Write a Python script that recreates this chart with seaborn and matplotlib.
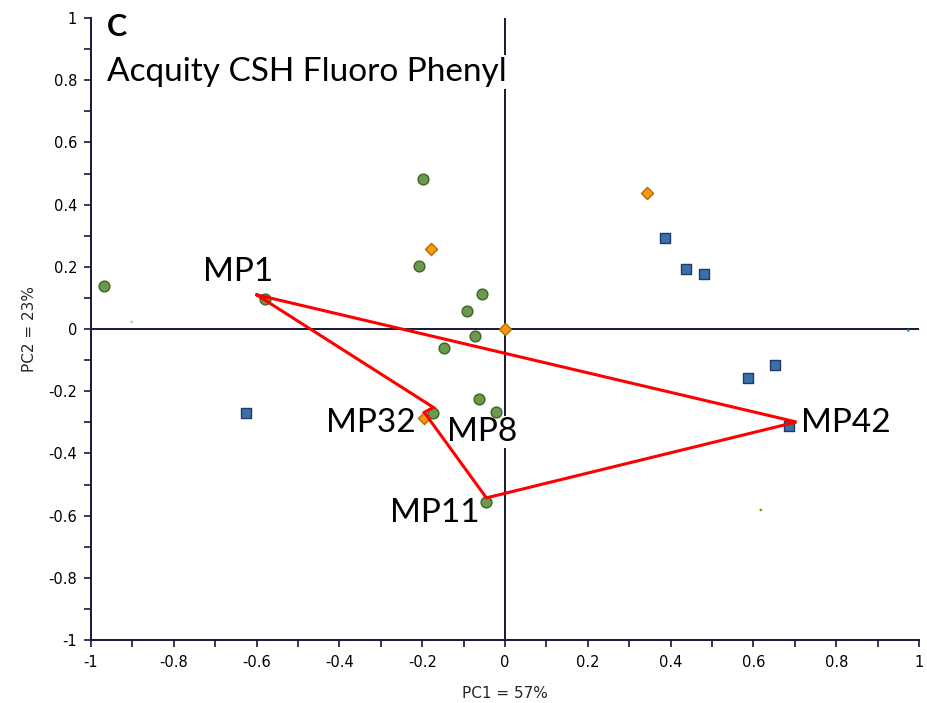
import matplotlib
matplotlib.use("Agg")
import matplotlib.pyplot as plt
from matplotlib.ticker import MultipleLocator
import seaborn as sns
import pandas as pd

# ---- data ----
green_x = [-0.969, -0.580, -0.198, -0.208, -0.056, -0.092, -0.072, -0.147, -0.063, -0.021, -0.174, -0.046]
green_y = [0.138, 0.096, 0.482, 0.203, 0.113, 0.058, -0.022, -0.062, -0.225, -0.266, -0.271, -0.556]
blue_x = [-0.626, 0.387, 0.436, 0.481, 0.651, 0.586, 0.685]
blue_y = [-0.271, 0.294, 0.194, 0.178, -0.117, -0.157, -0.312]
orange_x = [-0.178, 0.0, -0.195, 0.342]
orange_y = [0.258, 0.0, -0.287, 0.438]

poly_labels = ["MP1", "MP32", "MP8", "MP11", "MP42"]
poly_x = [-0.600, -0.173, -0.195, -0.045, 0.704]
poly_y = [0.110, -0.252, -0.268, -0.543, -0.299]
label_x = [-0.645, -0.324, -0.056, -0.169, 0.824]
label_y = [0.183, -0.302, -0.331, -0.592, -0.302]

stray_x = [0.974, 0.618, -0.902]
stray_y = [-0.005, -0.582, 0.023]
stray_c = ["#2aa3d8", "#b08a00", "#c8c8c8"]

x_ticks = [-1, -0.8, -0.6, -0.4, -0.2, 0, 0.2, 0.4, 0.6, 0.8, 1]
y_ticks = [-1, -0.8, -0.6, -0.4, -0.2, 0, 0.2, 0.4, 0.6, 0.8, 1]

sns.set_theme(style="white")
plt.rcParams["font.family"] = ["DejaVu Sans"]
plt.rcParams["axes.unicode_minus"] = False

fig = plt.figure(figsize=(9.27, 7.03), dpi=100)
ax = fig.add_axes([91 / 927, 1 - 640 / 703, (919 - 91) / 927, (640 - 18) / 703])

navy = "#15163a"

# zero lines
ax.axhline(0, color=navy, lw=1.4, zorder=1)
ax.axvline(0, color=navy, lw=1.4, zorder=1)

df = pd.DataFrame({
    "x": green_x + blue_x + orange_x,
    "y": green_y + blue_y + orange_y,
    "grp": ["g"] * len(green_x) + ["b"] * len(blue_x) + ["o"] * len(orange_x),
})
fills = {"g": "#6b9a4c", "b": "#3a6fa8", "o": "#f59a10"}
edges = {"g": "#3d6428", "b": "#1c3c66", "o": "#b86a00"}
marks = {"g": "o", "b": "s", "o": "D"}
sizes = {"g": 60, "b": 42, "o": 38}
for g in ["g", "b", "o"]:
    sub = df[df.grp == g]
    sns.scatterplot(data=sub, x="x", y="y", marker=marks[g], s=sizes[g],
                    color=fills[g], edgecolor=edges[g], linewidth=1.0,
                    ax=ax, zorder=3, legend=False)

ax.scatter(stray_x, stray_y, s=4, c=stray_c, marker="o", linewidths=0, zorder=2)

# red polygon
px = poly_x + [poly_x[0]]
py = poly_y + [poly_y[0]]
ax.plot(px, py, color="#ff0000", lw=2.2, zorder=4, solid_joinstyle="miter")

for t, lx, ly in zip(poly_labels, label_x, label_y):
    ax.text(lx, ly, t, ha="center", va="center", fontsize=24, family="Lato",
            color="black", zorder=2.5,
            bbox=dict(facecolor="white", edgecolor="none", pad=0.5))

ax.text(-0.962, 0.972, "C", ha="left", va="center", fontsize=22, family="Lato",
        fontweight="bold", color="black", zorder=5)
ax.text(-0.962, 0.826, "Acquity CSH Fluoro Phenyl", ha="left", va="center",
        fontsize=24, family="Lato", color="black", zorder=5,
        bbox=dict(facecolor="white", edgecolor="none", pad=1.5))

ax.set_xlim(-1, 1)
ax.set_ylim(-1, 1)
ax.set_xticks(x_ticks)
ax.set_yticks(y_ticks)
ax.set_xticklabels([f"{v:g}" for v in x_ticks])
ax.set_yticklabels([f"{v:g}" for v in y_ticks])
ax.xaxis.set_minor_locator(MultipleLocator(0.1))
ax.yaxis.set_minor_locator(MultipleLocator(0.1))
ax.tick_params(axis="both", which="both", direction="out", length=5, width=1.2,
               color=navy, labelsize=10.5, labelcolor="black")
ax.tick_params(axis="x", which="both", bottom=True, pad=6)
ax.tick_params(axis="y", which="both", left=True, pad=5)

for s in ["top", "right"]:
    ax.spines[s].set_visible(False)
for s in ["left", "bottom"]:
    ax.spines[s].set_color(navy)
    ax.spines[s].set_linewidth(1.4)

ax.set_xlabel("PC1 = 57%", fontsize=11, labelpad=11)
ax.set_ylabel("PC2 = 23%", fontsize=11, labelpad=8)
ax.grid(False)

fig.savefig("out.png", dpi=100)
